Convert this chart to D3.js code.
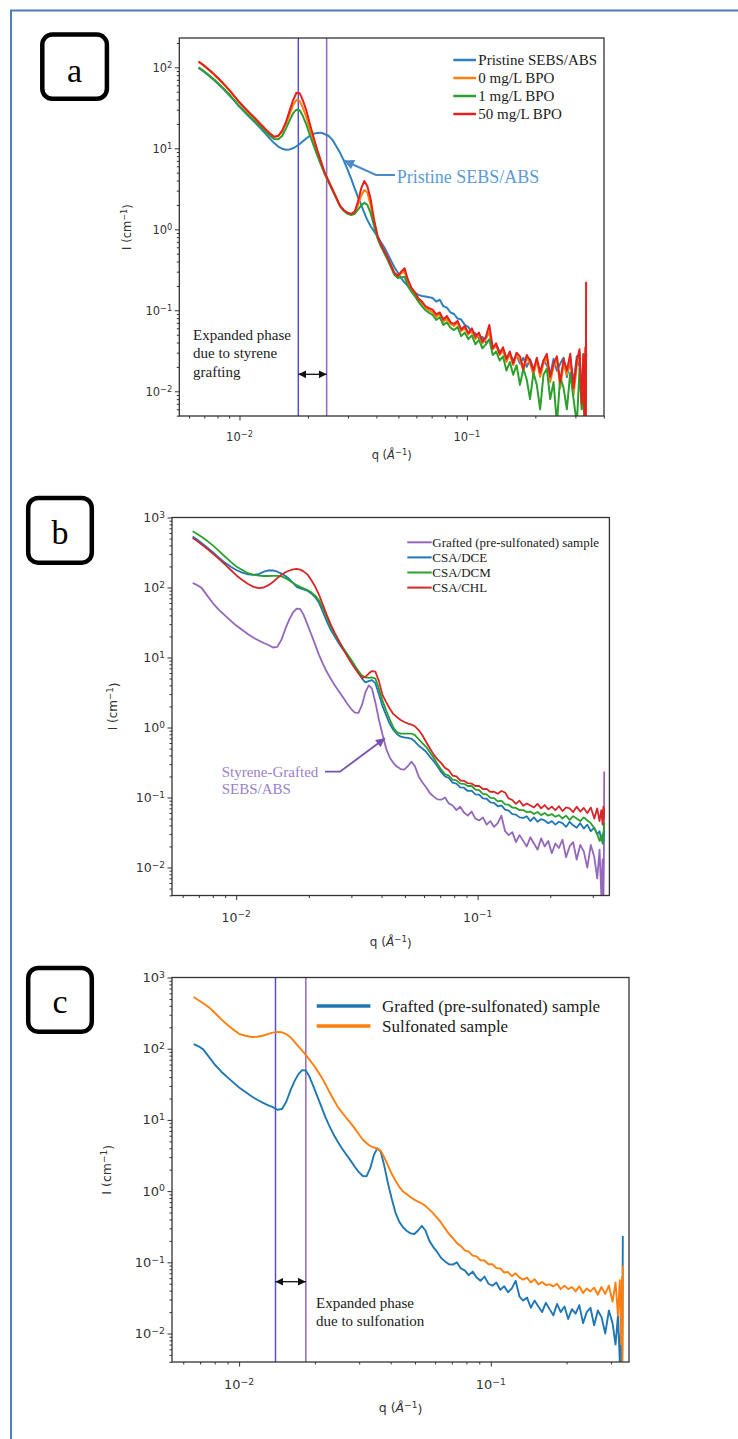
<!DOCTYPE html>
<html><head><meta charset="utf-8">
<script src="https://cdn.jsdelivr.net/npm/d3@7"></script>
<style>body{margin:0;background:#fff} svg{display:block}</style>
</head><body>
<svg id="chart" width="738" height="1439"></svg>
<script>
// ---------------- DATA ----------------
const qValues = [
0.0066,0.0069,0.0072,0.0076,0.0080,0.0085,0.0090,0.0095,0.0100,0.0106,
0.0112,0.0118,0.0124,0.0130,0.0136,0.0142,0.0148,0.0154,0.0160,0.0166,
0.0172,0.0178,0.0184,0.0190,0.0197,0.0204,0.0212,0.0220,0.0228,0.0237,
0.0246,0.0256,0.0266,0.0277,0.0288,0.0299,0.0310,0.0321,0.0332,0.0343,
0.0354,0.0365,0.0377,0.0390,0.0404,0.0418,0.0433,0.0448,0.0464,0.0480,
0.0497,0.0514,0.0532,0.0550,0.0570,0.0590,0.0612,0.0635,0.0658,0.0682,
0.0707,0.0733,0.0760,0.0788,0.0817,0.0847,0.0878,0.0910,0.0944,0.0979,
0.1015,0.1052,0.1090,0.1130,0.1170,0.1212,0.1255,0.1300,0.1345,0.1393,
0.1442,0.1492,0.1545,0.1598,0.1654,0.1712,0.1771,0.1833,0.1896,0.1962,
0.2030,0.2100,0.2172,0.2247,0.2325,0.2405,0.2488,0.2573,0.2662,0.2753,
0.2848,0.2945,0.3045,0.3130,0.3200,0.3255,0.3295,0.3320,0.3335,0.3345];

// panel a
const pristine = [
98,90,82,72.5,63.5,54,45.5,38.5,32.5,27.5,
23.5,20.3,17.5,15.2,13.2,11.6,10.5,9.9,9.6,9.7,
10.0,10.6,11.3,12.2,13.3,14.3,15.1,15.5,15.6,15.0,
14.3,12.8,10.7,8.8,7.0,5.4,4.2,3.2,2.5,2.0,
1.6,1.3,1.1,0.95,0.82,0.70,0.6,0.5,0.41,0.34,
0.29,0.25,0.22,0.2,0.18,0.165,0.155,0.15,0.148,0.145,
0.142,0.128,0.135,0.112,0.108,0.094,0.09,0.079,0.077,0.066,
0.062,0.053,0.052,0.045,0.047,0.04,0.043,0.034,0.037,0.031,
0.033,0.026,0.029,0.024,0.028,0.022,0.026,0.02,0.025,0.019,
0.023,0.017,0.024,0.021,0.016,0.025,0.018,0.022,0.026,0.015,
0.024,0.013,0.027,0.02,0.01,0.029,0.012,0.026,0.012,0.03];
const bpo0 = [
117,107,97,85,74,62,52,43.5,36.5,30.5,
26,22.5,19.4,17,15.1,13.9,14.2,16,20,26,
34,39.5,38.5,31.5,24,17,12,8.8,6.7,4.9,
3.95,3.1,2.45,1.93,1.7,1.58,1.53,1.6,2.0,2.6,
3.05,2.85,2.0,1.22,0.82,0.64,0.53,0.44,0.35,0.285,
0.26,0.285,0.3,0.225,0.185,0.16,0.137,0.122,0.108,0.1,
0.095,0.083,0.09,0.072,0.079,0.068,0.064,0.07,0.055,0.06,
0.05,0.056,0.044,0.05,0.039,0.044,0.054,0.033,0.037,0.028,
0.032,0.023,0.029,0.021,0.028,0.024,0.018,0.026,0.022,0.016,
0.024,0.015,0.022,0.026,0.013,0.02,0.025,0.011,0.022,0.016,
0.026,0.009,0.021,0.03,0.006,0.026,0.004,0.032,0.005,0.04];
const bpo1 = [
100,92,84,74,65,55,46.5,39,33,28,
24,21,18.3,16.1,14.3,13.0,12.9,14.2,17.5,22,
27,30,29.5,25,19.5,14.5,10.8,8.1,6.3,4.8,
3.85,3.05,2.45,1.92,1.68,1.55,1.5,1.55,1.75,1.98,
2.12,2.0,1.6,1.12,0.78,0.62,0.51,0.42,0.34,0.275,
0.25,0.255,0.26,0.2,0.17,0.15,0.128,0.112,0.1,0.093,
0.088,0.076,0.082,0.066,0.071,0.061,0.057,0.062,0.048,0.053,
0.044,0.049,0.038,0.043,0.034,0.038,0.044,0.028,0.031,0.024,
0.027,0.018,0.023,0.016,0.021,0.012,0.019,0.014,0.008,0.017,
0.012,0.006,0.016,0.019,0.008,0.013,0.004,0.015,0.011,0.006,
0.017,0.008,0.004,0.019,0.006,0.014,0.003,0.022,0.006,0.03];
const bpo50 = [
118,108,98,86,75,63,53,44,37,31,
26.5,23,19.8,17.3,15.3,13.9,14.2,16.5,21,29,
39,48.5,48,39,29,20,13.5,9.5,7.0,5.0,
4.0,3.15,2.5,1.95,1.72,1.6,1.55,1.65,2.2,3.2,
3.95,3.4,2.4,1.35,0.85,0.66,0.54,0.45,0.36,0.29,
0.265,0.3,0.33,0.24,0.19,0.168,0.14,0.128,0.112,0.106,
0.102,0.089,0.094,0.077,0.085,0.071,0.068,0.074,0.058,0.064,
0.052,0.06,0.047,0.053,0.041,0.047,0.066,0.034,0.039,0.029,
0.035,0.025,0.031,0.022,0.03,0.027,0.019,0.028,0.024,0.018,
0.026,0.017,0.024,0.029,0.015,0.022,0.027,0.013,0.025,0.018,
0.029,0.011,0.024,0.033,0.007,0.028,0.004,0.035,0.005,0.225];

// panels b and c
const grafted = [
116,108,98,76,60,47.5,39.6,33.4,28.6,24.7,
21.5,19.2,17.5,16.1,15.1,13.9,14.2,18,26,35,
44,50,49.5,41,30,22,15.5,11,8.3,6.3,
5.0,4.0,3.3,2.7,2.2,1.85,1.63,1.62,2.1,3.2,
4.0,3.6,2.3,1.3,0.78,0.5,0.37,0.31,0.275,0.255,
0.25,0.28,0.325,0.28,0.2,0.165,0.14,0.115,0.103,0.094,
0.093,0.1,0.082,0.077,0.066,0.074,0.061,0.055,0.063,0.05,
0.047,0.052,0.041,0.046,0.038,0.043,0.055,0.033,0.029,0.032,
0.023,0.029,0.024,0.02,0.027,0.022,0.018,0.026,0.02,0.024,
0.016,0.022,0.019,0.025,0.014,0.02,0.023,0.013,0.021,0.017,
0.01,0.021,0.014,0.007,0.018,0.004,0.013,0.003,0.012,0.235];
const csaDCE = [
535,480,430,370,320,265,225,198,178,163,
154,152,155,168,176,175,168,158,146,132,
116,102,97,94,90,83,73,61,46,33,
25,20,16,13,11,9.2,7.6,6.2,5.0,4.4,
4.6,4.75,4.3,3.0,2.0,1.5,1.12,0.92,0.8,0.74,
0.72,0.71,0.69,0.63,0.55,0.5,0.45,0.38,0.33,0.28,
0.23,0.2,0.19,0.163,0.158,0.14,0.138,0.124,0.125,0.111,
0.11,0.097,0.096,0.085,0.084,0.075,0.077,0.067,0.065,0.058,
0.057,0.052,0.051,0.054,0.046,0.052,0.045,0.049,0.047,0.043,
0.046,0.041,0.045,0.043,0.038,0.045,0.04,0.037,0.043,0.036,
0.041,0.033,0.037,0.03,0.033,0.024,0.03,0.022,0.03,0.04];
const csaDCM = [
636,580,525,460,400,330,275,232,200,178,
160,152,148,146,146,147,147,144,136,126,
116,108,102,97,92,86,77,66,52,38,
28,21.5,17,13.8,11.3,9.3,7.6,6.4,5.5,5.2,
5.1,5.2,5.0,3.6,2.4,1.75,1.3,1.0,0.85,0.82,
0.82,0.82,0.82,0.78,0.68,0.6,0.53,0.44,0.37,0.3,
0.25,0.215,0.205,0.18,0.176,0.158,0.157,0.146,0.146,0.13,
0.127,0.113,0.111,0.099,0.098,0.088,0.09,0.08,0.079,0.072,
0.071,0.066,0.066,0.062,0.063,0.058,0.062,0.056,0.06,0.055,
0.058,0.053,0.056,0.05,0.055,0.048,0.054,0.05,0.046,0.052,
0.047,0.043,0.036,0.03,0.024,0.028,0.022,0.032,0.035,0.045];
const csaCHL = [
509,460,410,355,305,255,212,178,150,128,
112,102,98,100,108,120,136,152,165,175,
182,184,180,170,154,130,104,80,58,41,
30,22.5,17.5,13.3,10.5,8.5,7.0,5.9,5.1,5.3,
5.9,6.4,6.3,4.6,2.9,2.3,1.85,1.55,1.4,1.28,
1.2,1.14,1.1,1.04,0.92,0.78,0.62,0.5,0.41,0.35,
0.31,0.265,0.245,0.205,0.2,0.175,0.173,0.16,0.158,0.146,
0.146,0.132,0.133,0.12,0.121,0.113,0.124,0.118,0.097,0.092,
0.081,0.09,0.076,0.082,0.077,0.072,0.081,0.07,0.078,0.068,
0.074,0.066,0.075,0.064,0.072,0.07,0.062,0.074,0.063,0.071,
0.06,0.072,0.05,0.07,0.046,0.066,0.041,0.074,0.05,0.07];
const sulfonated = [
532,480,435,380,320,258,215,185,162,152,
146,147,152,160,168,172,170,160,145,125,
108,94,82,71,60,50,40.5,32,25,19.5,
15.5,12.8,10.8,9.1,7.6,6.3,5.3,4.7,4.3,4.1,
3.95,3.7,3.0,2.3,1.75,1.4,1.15,0.99,0.9,0.82,
0.76,0.71,0.67,0.62,0.55,0.49,0.42,0.36,0.3,0.25,
0.218,0.186,0.17,0.147,0.141,0.124,0.121,0.107,0.106,0.094,
0.094,0.083,0.082,0.072,0.073,0.064,0.07,0.061,0.057,0.061,
0.052,0.058,0.049,0.053,0.048,0.049,0.046,0.05,0.042,0.047,
0.042,0.045,0.039,0.046,0.037,0.043,0.039,0.044,0.035,0.045,
0.036,0.047,0.028,0.052,0.018,0.056,0.007,0.062,0.004,0.09];

const legendA = ["Pristine SEBS/ABS","0 mg/L BPO","1 mg/L BPO","50 mg/L BPO"];
const legendB = ["Grafted (pre-sulfonated) sample","CSA/DCE","CSA/DCM","CSA/CHL"];
const legendC = ["Grafted (pre-sulfonated) sample","Sulfonated sample"];
const markerQA = [0.01814, 0.02417];
const markerQC = [0.01395, 0.01841];
const majorX = [0.01, 0.1];
const majorYA = [0.01, 0.1, 1, 10, 100];
const majorYB = [0.01, 0.1, 1, 10, 100, 1000];

// ---------------- DRAWING ----------------
const svg = d3.select("#chart");
const defs = svg.append("defs");
const SANS = "'DejaVu Sans', sans-serif";
const SERIF = "'Liberation Serif', 'Times New Roman', serif";

function marker(id, color, w, h) {
  defs.append("marker").attr("id", id).attr("viewBox", "0 0 10 10")
    .attr("refX", 10).attr("refY", 5).attr("markerWidth", w).attr("markerHeight", h)
    .attr("markerUnits", "userSpaceOnUse").attr("orient", "auto-start-reverse")
    .append("path").attr("d", "M0,0 L10,5 L0,10 z").attr("fill", color);
}
marker("mBlack", "#111", 8, 8);
marker("mBlue", "#4a8ac8", 11, 10);
marker("mPurple", "#7a4fb5", 10, 9);

// outer frame
svg.append("rect").attr("x", 11).attr("y", 10.5).attr("width", 780).attr("height", 1480)
  .attr("fill", "none").attr("stroke", "#4f7fb8").attr("stroke-width", 2);

function labelBox(x, y, w, h, letter, bx, by) {
  svg.append("rect").attr("x", x).attr("y", y).attr("width", w).attr("height", h)
    .attr("rx", 10).attr("fill", "#fff").attr("stroke", "#000").attr("stroke-width", 4.5);
  svg.append("text").attr("x", bx).attr("y", by).attr("text-anchor", "middle")
    .attr("font-family", SERIF).attr("font-size", 34).attr("fill", "#000").text(letter);
}
labelBox(42.3, 34.6, 64.6, 64.2, "a", 74.6, 81.5);
labelBox(28.2, 498, 63.6, 64.7, "b", 60, 544);
labelBox(28.2, 968, 63.6, 63.7, "c", 60, 1013);

function powLabel(sel, v) {
  const e = Math.round(Math.log10(v));
  sel.append("tspan").text("10");
  sel.append("tspan").attr("dy", "-0.45em").attr("font-size", "72%").text(e < 0 ? "\u2212" + (-e) : String(e));
}

function panel(o) {
  const x = d3.scaleLog().domain(o.xDomain).range([o.left, o.right]);
  const y = d3.scaleLog().domain(o.yDomain).range([o.bottom, o.top]);
  const g = svg.append("g");
  const clipId = "clip" + o.id;
  defs.append("clipPath").attr("id", clipId).append("rect")
    .attr("x", o.left).attr("y", o.top).attr("width", o.right - o.left).attr("height", o.bottom - o.top);

  (o.vlines || []).forEach((q, i) => {
    g.append("line").attr("x1", x(q)).attr("x2", x(q)).attr("y1", o.top).attr("y2", o.bottom)
      .attr("stroke", i === 0 ? "#5a4fcf" : "#9467bd").attr("stroke-width", 1.5);
  });

  const line = d3.line().x((d, i) => x(qValues[i])).y(d => y(d)).curve(d3.curveLinear);
  o.series.forEach(s => {
    g.append("path").attr("d", line(s.values)).attr("clip-path", `url(#${clipId})`)
      .attr("fill", "none").attr("stroke", s.color).attr("stroke-width", o.lw)
      .attr("stroke-linejoin", "round");
  });

  g.append("rect").attr("x", o.left).attr("y", o.top).attr("width", o.right - o.left)
    .attr("height", o.bottom - o.top).attr("fill", "none").attr("stroke", "#333").attr("stroke-width", 1.3);

  const near = (a, b) => Math.abs(a / b - 1) < 1e-6;
  const xMinor = x.ticks().filter(v => !majorX.some(m => near(v, m)));
  const yMinor = y.ticks().filter(v => !o.yMajor.some(m => near(v, m)));
  const styleAxis = sel => { sel.select(".domain").remove(); sel.selectAll("line").attr("stroke", "#333").attr("stroke-width", 1); };
  g.append("g").attr("transform", `translate(0,${o.bottom})`)
    .call(d3.axisBottom(x).tickValues(majorX).tickSize(4.5).tickFormat("")).call(styleAxis);
  g.append("g").attr("transform", `translate(0,${o.bottom})`)
    .call(d3.axisBottom(x).tickValues(xMinor).tickSize(2.5).tickFormat("")).call(styleAxis);
  g.append("g").attr("transform", `translate(${o.left},0)`)
    .call(d3.axisLeft(y).tickValues(o.yMajor).tickSize(4.5).tickFormat("")).call(styleAxis);
  g.append("g").attr("transform", `translate(${o.left},0)`)
    .call(d3.axisLeft(y).tickValues(yMinor).tickSize(2.5).tickFormat("")).call(styleAxis);

  majorX.forEach(v => {
    const t = g.append("text").attr("x", x(v)).attr("y", o.bottom + o.xLabDy).attr("text-anchor", "middle")
      .attr("font-family", SANS).attr("font-size", o.tickFs).attr("fill", "#333");
    powLabel(t, v);
  });
  o.yMajor.forEach(v => {
    const t = g.append("text").attr("x", o.left - 7).attr("y", y(v) + 4.5).attr("text-anchor", "end")
      .attr("font-family", SANS).attr("font-size", o.tickFs).attr("fill", "#333");
    powLabel(t, v);
  });

  const xt = g.append("text").attr("x", (o.left + o.right) / 2).attr("y", o.xTitleY).attr("text-anchor", "middle")
    .attr("font-family", SANS).attr("font-size", o.titleFs).attr("fill", "#333");
  xt.append("tspan").text("q (");
  xt.append("tspan").attr("font-style", "italic").text("\u00C5");
  xt.append("tspan").attr("dy", "-0.45em").attr("font-size", "72%").text("\u22121");
  xt.append("tspan").attr("dy", "0.45em").text(")");
  const yt = g.append("text").attr("transform", `translate(${o.yTitleX},${(o.top + o.bottom) / 2}) rotate(-90)`)
    .attr("text-anchor", "middle").attr("font-family", SANS).attr("font-size", o.titleFs).attr("fill", "#333");
  yt.append("tspan").text("I (cm");
  yt.append("tspan").attr("dy", "-0.45em").attr("font-size", "72%").text("\u22121");
  yt.append("tspan").attr("dy", "0.45em").text(")");

  o.legend.names.forEach((n, i) => {
    const ly = o.legend.y0 + i * o.legend.dy;
    g.append("line").attr("x1", o.legend.x1).attr("x2", o.legend.x2).attr("y1", ly).attr("y2", ly)
      .attr("stroke", o.series[i].color).attr("stroke-width", o.legend.lw);
    g.append("text").attr("x", o.legend.tx).attr("y", ly).attr("dy", "0.33em")
      .attr("font-family", SERIF).attr("font-size", o.legend.fs).attr("fill", "#1a1a1a").text(n);
  });
  return { x, y, g };
}

// ---- Panel a ----
const pa = panel({
  id: "a", left: 179.3, right: 604, top: 38, bottom: 416,
  xDomain: [Math.pow(10, -2.2647), Math.pow(10, -0.397)],
  yDomain: [Math.pow(10, -2.305), Math.pow(10, 2.362)],
  yMajor: majorYA, vlines: markerQA, lw: 2,
  series: [
    { values: pristine, color: "#2f80c0" },
    { values: bpo0, color: "#ff7f0e" },
    { values: bpo1, color: "#2ca02c" },
    { values: bpo50, color: "#e4211c" }],
  tickFs: 11.5, titleFs: 11.5, xLabDy: 25, xTitleY: 459, yTitleX: 131,
  legend: { names: legendA, x1: 453.3, x2: 476, tx: 478.3, y0: 60, dy: 18, fs: 15, lw: 2.5 }
});
pa.g.append("text").attr("x", 396.7).attr("y", 177).attr("dy", "0.33em")
  .attr("font-family", SERIF).attr("font-size", 18).attr("fill", "#5b9bd5").text("Pristine SEBS/ABS");
pa.g.append("polyline").attr("points", "395,175 376,175 344,160.5").attr("fill", "none")
  .attr("stroke", "#4a8ac8").attr("stroke-width", 2).attr("marker-end", "url(#mBlue)");
["Expanded phase", "due to styrene", "grafting"].forEach((t, i) => {
  pa.g.append("text").attr("x", 193).attr("y", 335 + i * 18.4).attr("dy", "0.33em")
    .attr("font-family", SERIF).attr("font-size", 15).attr("fill", "#222").text(t);
});
pa.g.append("line").attr("x1", pa.x(markerQA[0])).attr("x2", pa.x(markerQA[1])).attr("y1", 374.3).attr("y2", 374.3)
  .attr("stroke", "#111").attr("stroke-width", 1.3)
  .attr("marker-start", "url(#mBlack)").attr("marker-end", "url(#mBlack)");

// ---- Panel b ----
const pb = panel({
  id: "b", left: 172, right: 609.4, top: 517.5, bottom: 895.5,
  xDomain: [Math.pow(10, -2.266), Math.pow(10, -0.454)],
  yDomain: [Math.pow(10, -2.4), 1000],
  yMajor: majorYB, lw: 1.8,
  series: [
    { values: grafted, color: "#9467bd" },
    { values: csaDCE, color: "#1f77b4" },
    { values: csaDCM, color: "#2ca02c" },
    { values: csaCHL, color: "#d62728" }],
  tickFs: 12.5, titleFs: 12, xLabDy: 26, xTitleY: 946, yTitleX: 117,
  legend: { names: legendB, x1: 407.3, x2: 431.7, tx: 432.3, y0: 542.3, dy: 15.1, fs: 13, lw: 2 }
});
["Styrene-Grafted", "SEBS/ABS"].forEach((t, i) => {
  pb.g.append("text").attr("x", 221.7).attr("y", 771.7 + i * 17.6).attr("dy", "0.33em")
    .attr("font-family", SERIF).attr("font-size", 15).attr("fill", "#9a7fc9").text(t);
});
pb.g.append("polyline").attr("points", "325,771.7 340,771.7 385,738.3").attr("fill", "none")
  .attr("stroke", "#7a4fb5").attr("stroke-width", 1.8).attr("marker-end", "url(#mPurple)");

// ---- Panel c ----
const pc = panel({
  id: "c", left: 172, right: 629, top: 977.5, bottom: 1362,
  xDomain: [Math.pow(10, -2.2666), Math.pow(10, -0.451)],
  yDomain: [Math.pow(10, -2.4), 1000],
  yMajor: majorYB, vlines: markerQC, lw: 1.9,
  series: [
    { values: grafted, color: "#1f77b4" },
    { values: sulfonated, color: "#ff7f0e" }],
  tickFs: 13, titleFs: 12.5, xLabDy: 27, xTitleY: 1412, yTitleX: 111,
  legend: { names: legendC, x1: 316.7, x2: 370.4, tx: 382.1, y0: 1006, dy: 20, fs: 17, lw: 3.5 }
});
pc.g.append("line").attr("x1", pc.x(markerQC[0])).attr("x2", pc.x(markerQC[1])).attr("y1", 1281.7).attr("y2", 1281.7)
  .attr("stroke", "#111").attr("stroke-width", 1.3)
  .attr("marker-start", "url(#mBlack)").attr("marker-end", "url(#mBlack)");
["Expanded phase", "due to sulfonation"].forEach((t, i) => {
  pc.g.append("text").attr("x", 316).attr("y", 1303.3 + i * 17.6).attr("dy", "0.33em")
    .attr("font-family", SERIF).attr("font-size", 15).attr("fill", "#222").text(t);
});
</script>
</body></html>
